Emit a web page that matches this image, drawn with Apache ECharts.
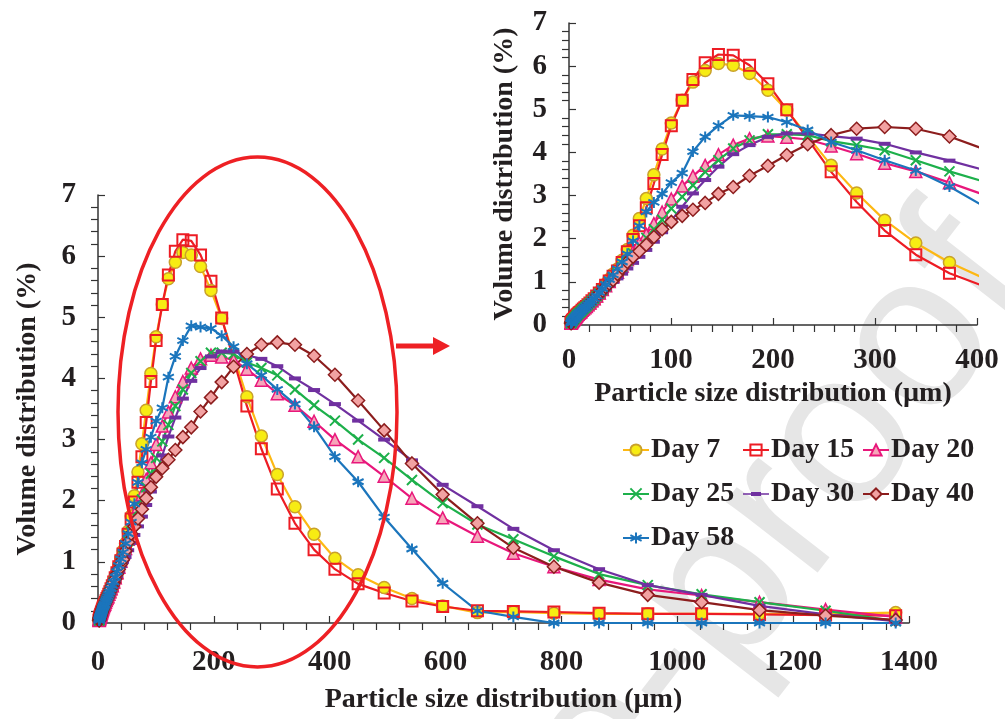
<!DOCTYPE html>
<html>
<head>
<meta charset="utf-8">
<script src="https://cdn.jsdelivr.net/npm/echarts@6/dist/echarts.min.js"></script>
<style>
html, body { margin: 0; padding: 0; background: #fff; }
#main { width: 1005px; height: 719px; }
</style>
</head>
<body>
<div id="main"></div>
<script>
// particle size classes (um)
var sizes = [2.0, 2.2, 2.4, 2.6, 2.9, 3.2, 3.5, 3.8, 4.2, 4.6,
    5.0, 5.5, 6.1, 6.7, 7.3, 8.0, 8.8, 9.7, 10.6, 11.7,
    12.8, 14.1, 15.5, 17.0, 18.6, 20.5, 22.5, 24.7, 27.1, 29.7,
    32.7, 35.9, 39.4, 43.2, 47.5, 52.1, 57.2, 62.8, 69.0, 75.8,
    83.2, 91.3, 100.3, 111, 121.5, 133.5, 146.5, 161, 177, 195,
    213.5, 234, 257, 282, 309.5, 340, 373, 409, 449, 494,
    542, 595, 655, 717, 787, 865, 949, 1042, 1142, 1256, 1377];

// volume distribution (%), null = no measurement on that class
var day7 = [0.04, 0.05, 0.06, 0.07, 0.08, 0.09, 0.10, 0.11, 0.12, 0.13,
    0.14, 0.16, 0.17, 0.19, 0.21, 0.23, 0.25, 0.27, 0.29, 0.31,
    0.34, 0.37, 0.40, 0.43, 0.47, 0.51, 0.56, 0.61, 0.67, 0.76,
    0.85, 0.95, 1.06, 1.18, 1.30, 1.50, 1.75, 2.08, 2.47, 2.93,
    3.48, 4.08, 4.68, 5.21, 5.63, 5.90, 6.06, 6.02, 5.83, 5.44,
    4.98, null, 3.70, 3.06, 2.43, 1.90, 1.45, 1.06, 0.79, 0.58,
    0.40, 0.28, 0.17, 0.18, 0.16, 0.15, 0.15, 0.15, 0.15, 0.15, 0.17];
var day15 = [0.04, 0.05, 0.06, 0.07, 0.08, 0.09, 0.10, 0.11, 0.12, 0.13,
    0.14, 0.16, 0.17, 0.19, 0.21, 0.23, 0.25, 0.27, 0.29, 0.31,
    0.34, 0.37, 0.40, 0.43, 0.47, 0.51, 0.56, 0.61, 0.67, 0.74,
    0.82, 0.92, 1.02, 1.13, 1.25, 1.45, 1.70, 1.98, 2.30, 2.72,
    3.28, 3.95, 4.62, 5.21, 5.69, 6.08, 6.27, 6.25, 6.02, 5.59,
    4.99, null, 3.55, 2.85, 2.19, 1.63, 1.20, 0.88, 0.64, 0.49,
    0.36, 0.27, 0.20, 0.19, 0.18, 0.16, 0.15, 0.15, 0.14, 0.13, 0.12];
var day20 = [0.04, 0.05, 0.06, 0.07, 0.08, 0.09, 0.10, 0.11, 0.12, 0.13,
    0.14, 0.16, 0.17, 0.19, 0.21, 0.23, 0.25, 0.27, 0.29, 0.31,
    0.34, 0.37, 0.40, 0.43, 0.47, 0.51, 0.56, 0.61, 0.67, 0.74,
    0.82, 0.91, 1.01, 1.12, 1.22, 1.37, 1.52, 1.70, 1.90, 2.10,
    2.35, 2.62, 2.92, 3.22, 3.45, 3.70, 3.95, 4.17, 4.32, 4.38,
    4.35, 4.30, 4.15, 3.97, 3.75, 3.56, 3.30, 3.00, 2.72, 2.40,
    2.04, 1.72, 1.42, 1.14, 0.92, 0.71, 0.55, 0.45, 0.34, 0.22, 0.10];
var day25 = [0.04, 0.05, 0.06, 0.07, 0.08, 0.09, 0.10, 0.11, 0.12, 0.13,
    0.14, 0.16, 0.17, 0.19, 0.21, 0.23, 0.25, 0.27, 0.29, 0.31,
    0.34, 0.37, 0.40, 0.43, 0.47, 0.51, 0.56, 0.61, 0.67, 0.73,
    0.81, 0.90, 1.00, 1.10, 1.20, 1.34, 1.49, 1.66, 1.84, 2.02,
    2.22, 2.44, 2.70, 2.97, 3.24, 3.55, 3.82, 4.09, 4.28, 4.42,
    4.42, 4.40, 4.26, 4.17, 4.05, 3.82, 3.56, 3.31, 3.00, 2.70,
    2.34, 1.96, 1.61, 1.37, 1.09, 0.80, 0.62, 0.47, 0.34, 0.20, 0.03];
var day30 = [0.04, 0.05, 0.06, 0.07, 0.08, 0.09, 0.10, 0.11, 0.12, 0.13,
    0.14, 0.16, 0.17, 0.19, 0.21, 0.23, 0.25, 0.27, 0.29, 0.31,
    0.34, 0.37, 0.40, 0.43, 0.47, 0.51, 0.56, 0.61, 0.66, 0.70,
    0.77, 0.85, 0.93, 1.00, 1.08, 1.19, 1.31, 1.44, 1.58, 1.74,
    1.93, 2.15, 2.42, 2.74, 3.05, 3.36, 3.67, 3.96, 4.17, 4.36,
    4.44, 4.44, 4.38, 4.32, 4.20, 4.00, 3.81, 3.58, 3.31, 3.00,
    2.66, 2.26, 1.91, 1.54, 1.19, 0.88, 0.62, 0.46, 0.28, 0.14, 0.03];
var day40 = [0.04, 0.05, 0.06, 0.07, 0.08, 0.09, 0.10, 0.11, 0.12, 0.13,
    0.14, 0.16, 0.17, 0.19, 0.21, 0.23, 0.25, 0.27, 0.29, 0.31,
    0.34, 0.37, 0.40, 0.43, 0.47, 0.51, 0.56, 0.61, 0.66, 0.72,
    0.80, 0.88, 0.96, 1.04, 1.18, 1.32, 1.46, 1.58, 1.71, 1.86,
    2.04, 2.22, 2.39, 2.53, 2.67, 2.83, 3.04, 3.20, 3.46, 3.69,
    3.94, 4.19, 4.40, 4.55, 4.59, 4.55, 4.37, 4.06, 3.64, 3.15,
    2.61, 2.10, 1.63, 1.23, 0.92, 0.66, 0.46, 0.34, 0.21, 0.12, 0.05];
var day58 = [0.04, 0.05, 0.06, 0.07, 0.08, 0.09, 0.10, 0.11, 0.12, 0.13,
    0.14, 0.16, 0.17, 0.19, 0.21, 0.23, 0.25, 0.27, 0.29, 0.31,
    0.34, 0.37, 0.40, 0.43, 0.47, 0.51, 0.56, 0.61, 0.67, 0.75,
    0.84, 0.94, 1.05, 1.16, 1.30, 1.46, 1.65, 1.95, 2.30, 2.62,
    2.84, 3.04, 3.30, 3.52, 4.02, 4.36, 4.62, 4.86, 4.84, 4.82,
    4.70, 4.52, 4.24, 4.05, 3.82, 3.58, 3.21, 2.72, 2.31, 1.73,
    1.21, 0.65, 0.20, 0.10, 0, 0, 0, 0, 0, 0, 0];

var seriesNames = ['Day 7', 'Day 15', 'Day 20', 'Day 25', 'Day 30', 'Day 40', 'Day 58'];
var seriesValues = [day7, day15, day20, day25, day30, day40, day58];

var FONT = "'Liberation Serif', 'Times New Roman', serif";
var INK = '#231f20';

// marker / line look per series
var looks = [
    { line: '#fdb813', symbol: 'circle', size: 12, fill: '#f7ec13', border: '#c9a12b', bw: 1.5 },
    { line: '#ed1c24', symbol: 'rect', size: 11, fill: 'rgba(0,0,0,0)', border: '#ed1c24', bw: 2 },
    { line: '#e8177b', symbol: 'triangle', size: 12, fill: '#f6a5b9', border: '#e8177b', bw: 1.5 },
    { line: '#1db04b', symbol: 'path://M0,0L10,10M10,0L0,10', size: 10, fill: '#1db04b', border: '#1db04b', bw: 2 },
    { line: '#7030a0', symbol: 'rect', size: [12, 4], fill: '#7030a0', border: '#7030a0', bw: 0 },
    { line: '#8c1d1d', symbol: 'diamond', size: 13, fill: '#f2a2a2', border: '#8c1d1d', bw: 1.5 },
    { line: '#1b75bc', symbol: 'path://M5,0L5,10M0.7,2.5L9.3,7.5M0.7,7.5L9.3,2.5', size: 11, fill: '#1b75bc', border: '#1b75bc', bw: 2 }
];

function pairs(values) {
    return sizes.map(function (x, i) {
        return [x, values[i] === null ? '-' : values[i]];
    });
}

function makeSeries(k, grid) {
    var lk = looks[k];
    return {
        name: seriesNames[k],
        type: 'line',
        xAxisIndex: grid,
        yAxisIndex: grid,
        data: pairs(seriesValues[k]),
        connectNulls: true,
        clip: true,
        symbol: lk.symbol,
        symbolSize: lk.size,
        showAllSymbol: true,
        lineStyle: { color: lk.line, width: 2.2 },
        itemStyle: { color: lk.fill, borderColor: lk.border, borderWidth: lk.bw },
        emphasis: { disabled: true },
        animation: false
    };
}

var series = [];
for (var k = 0; k < seriesNames.length; k++) series.push(makeSeries(k, 0));
for (var k = 0; k < seriesNames.length; k++) series.push(makeSeries(k, 1));

function labelFont(margin) {
    return {
        margin: margin, fontFamily: FONT, fontWeight: 'bold', fontSize: 29, color: INK,
        formatter: function (v) { return String(v); }   // no thousands separator
    };
}
var nameFont = { fontFamily: FONT, fontWeight: 'bold', fontSize: 28, color: INK };

function axisLine() {
    return { show: true, onZero: false, lineStyle: { color: '#333', width: 1.5 } };
}
function majorTick() {
    return { show: true, inside: true, length: 7, lineStyle: { color: '#333', width: 1.2 } };
}
function minorTick() {
    return { show: true, splitNumber: 5, length: -7, lineStyle: { color: '#333', width: 1.2 } };
}

function xAx(grid, max, step, gap, margin) {
    return {
        type: 'value', gridIndex: grid, min: 0, max: max, interval: step,
        name: 'Particle size distribution (µm)', nameLocation: 'middle', nameGap: gap,
        nameTextStyle: nameFont,
        axisLine: axisLine(), axisTick: majorTick(), minorTick: minorTick(),
        splitLine: { show: false }, minorSplitLine: { show: false },
        axisLabel: labelFont(margin)
    };
}
function yAx(grid, gap) {
    return {
        type: 'value', gridIndex: grid, min: 0, max: 7, interval: 1,
        name: 'Volume distribution (%)', nameLocation: 'middle', nameGap: gap,
        nameTextStyle: nameFont,
        axisLine: axisLine(), axisTick: majorTick(), minorTick: minorTick(),
        splitLine: { show: false }, minorSplitLine: { show: false },
        axisLabel: labelFont(22)
    };
}

// Day 30 legend icon: line with a short thick dash (tiny corner dots keep the 26x14 box)
var dashIcon = 'path://M0,0L0.01,0L0,0.01Z M0,14L0.01,14L0,13.99Z M0,6.2L26,6.2L26,7.8L0,7.8Z M8,5L18,5L18,9L8,9Z';

function legendCol(left, names) {
    return {
        orient: 'vertical', left: left, top: 436, padding: 0, itemGap: 16,
        itemWidth: 26, itemHeight: 14,
        data: names.map(function (n) { return n === 'Day 30' ? { name: n, icon: dashIcon } : n; }),
        textStyle: { fontFamily: FONT, fontWeight: 'bold', fontSize: 28, color: INK, padding: [0, 0, 0, -3] },
        selectedMode: false
    };
}

var myChart = echarts.init(document.getElementById('main'));
var option = {
    backgroundColor: '#fff',
    animation: false,
    grid: [
        { left: 98, top: 195, width: 811, height: 428, outerBoundsMode: 'none', containLabel: false },
        { left: 569, top: 23, width: 408, height: 302, outerBoundsMode: 'none', containLabel: false }
    ],
    xAxis: [xAx(0, 1400, 200, 63, 25), xAx(1, 400, 100, 55, 21)],
    yAxis: [yAx(0, 56), yAx(1, 50)],
    legend: [
        legendCol(622, ['Day 7', 'Day 25', 'Day 58']),
        legendCol(742, ['Day 15', 'Day 30']),
        legendCol(862, ['Day 20', 'Day 40'])
    ],
    graphic: [
        {
            type: 'text', z: -10, silent: true,
            x: 993, y: 248, rotation: 0.91,
            style: {
                text: 'Journal Pre-proof', fill: '#e6e6e6',
                font: "220px 'Liberation Sans', Arial, sans-serif",
                textAlign: 'right', textVerticalAlign: 'middle'
            }
        },
        {
            type: 'ellipse', z: 100, silent: true,
            shape: { cx: 257.5, cy: 412, rx: 139.5, ry: 255 },
            style: { fill: 'none', stroke: '#ee2024', lineWidth: 3.5 }
        },
        {
            type: 'line', z: 100, silent: true,
            shape: { x1: 396, y1: 346, x2: 436, y2: 346 },
            style: { stroke: '#ee2024', lineWidth: 5 }
        },
        {
            type: 'polygon', z: 100, silent: true,
            shape: { points: [[433, 337], [450, 346], [433, 355]] },
            style: { fill: '#ee2024' }
        }
    ],
    series: series
};
myChart.setOption(option);
</script>
</body>
</html>
